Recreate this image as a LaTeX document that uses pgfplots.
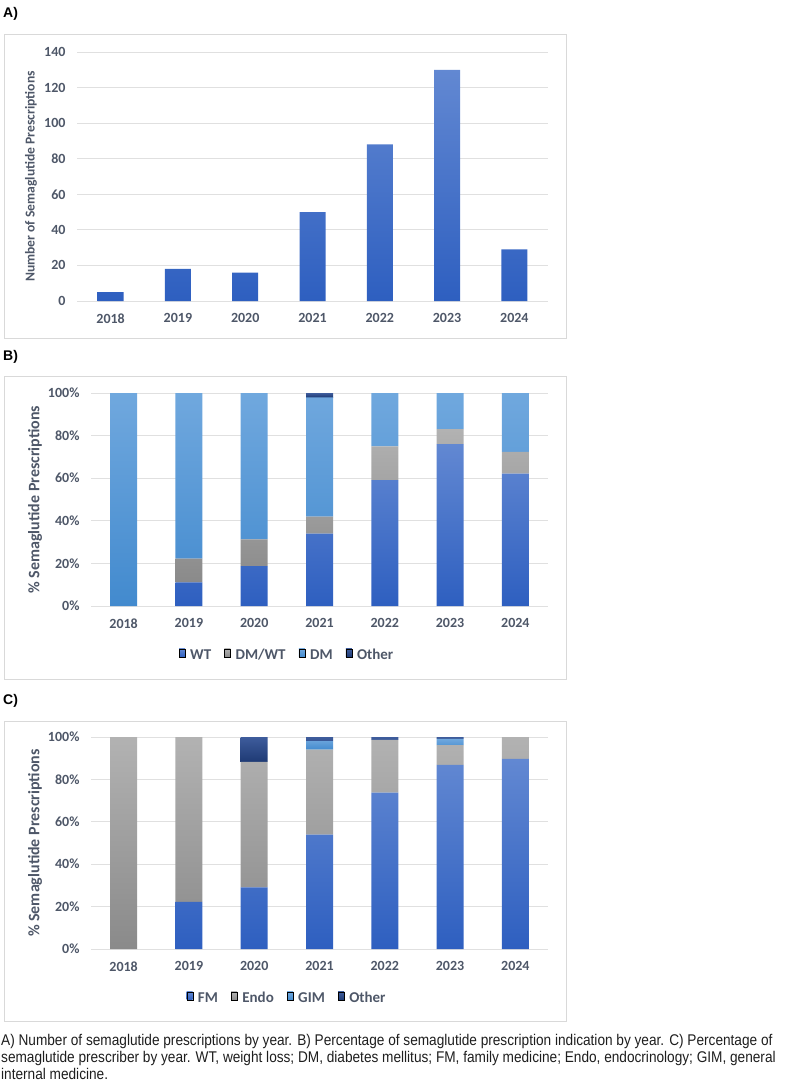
\documentclass[border=0pt]{standalone}
\usepackage{fontspec}
\usepackage{pgfplots}
\pgfplotsset{compat=1.18}
\newfontfamily\cf{Carlito}
\newfontfamily\af{Liberation Sans}
\newfontfamily\nf[FakeStretch=0.88]{Liberation Sans}
\definecolor{txt}{RGB}{78,87,104}
\definecolor{gridc}{RGB}{224,224,224}
\definecolor{framec}{RGB}{217,217,217}
\definecolor{bTop}{RGB}{98,136,210}
\definecolor{bBot}{RGB}{46,95,192}
\definecolor{gTop}{RGB}{178,178,178}
\definecolor{gBot}{RGB}{138,138,138}
\definecolor{lTop}{RGB}{112,168,222}
\definecolor{lBot}{RGB}{66,138,206}
\definecolor{nTop}{RGB}{62,92,156}
\definecolor{nBot}{RGB}{30,58,116}
\definecolor{capc}{RGB}{30,30,30}

\pgfplotsset{
  base/.style={
    scale only axis, anchor=south west,
    xmin=-0.5, xmax=6.5,
    xtick={0,...,6}, xticklabels={2018,2019,2020,2021,2022,2023,2024},
    axis line style={draw=none}, major tick length=0pt, tick style={draw=none},
    ymajorgrids, grid style={draw=gridc, line width=0.8pt},
    ticklabel style={font=\cf\bfseries\fontsize{14}{16}\selectfont, text=txt},
    xticklabel style={yshift=-9pt},
    yticklabel style={xshift=-8pt},
    clip=false,
    legend image code/.code={\path[##1] (0pt,-4.5pt) rectangle (9pt,4.5pt);},
  },
}

\begin{document}
\begin{tikzpicture}
\path[use as bounding box] (0pt,0pt) rectangle (788pt,-1083pt);
\draw[framec, line width=0.8pt] (4pt,-34pt) rectangle (566pt,-338pt);
\draw[framec, line width=0.8pt] (4pt,-376pt) rectangle (566pt,-679pt);
\draw[framec, line width=0.8pt] (4pt,-721pt) rectangle (566pt,-1021pt);
\node[anchor=west, inner sep=0pt, font=\af\bfseries\fontsize{14}{16}\selectfont] at (3pt,-14pt) {A)};
\node[anchor=west, inner sep=0pt, font=\af\bfseries\fontsize{14}{16}\selectfont] at (3pt,-357pt) {B)};
\node[anchor=west, inner sep=0pt, font=\af\bfseries\fontsize{14}{16}\selectfont] at (3pt,-701pt) {C)};

% Panel A
\begin{axis}[base, at={(77pt,-301pt)}, width=471pt, height=249pt,
  ybar, bar width=26pt, ymin=0, ymax=140,
  ytick={0,20,40,60,80,100,120,140}, yticklabels={0,20,40,60,80,100,120,140},
  ylabel={Number of Semaglutide Prescriptions},
  every axis y label/.style={at={(axis description cs:-0.0977,0.5)}, rotate=90, anchor=center,
    font=\cf\bfseries\fontsize{13.6}{15}\selectfont, text=txt}]
\addplot[draw=none, top color=bTop, bottom color=bBot] coordinates {
(0,5) (1,18) (2,16) (3,50) (4,88) (5,130) (6,29)};
\end{axis}

% Panel B
\begin{axis}[base, at={(91pt,-606pt)}, width=457pt, height=213pt,
  ybar stacked, bar width=27pt, ymin=0, ymax=100,
  ytick={0,20,40,60,80,100}, yticklabels={0\%,20\%,40\%,60\%,80\%,100\%},
  ylabel={\% Semaglutide Prescriptions},
  every axis y label/.style={at={(axis description cs:-0.1225,0.5)}, rotate=90, anchor=center,
    font=\cf\bfseries\fontsize{16}{18}\selectfont, text=txt},
  legend columns=4,
  legend style={draw=none, fill=none, at={(0.429,-0.23)}, anchor=center,
    font=\cf\bfseries\fontsize{15}{17}\selectfont, text=txt,
    /tikz/every even column/.append style={column sep=11pt}}]
\addplot[draw=none, top color=bTop, bottom color=bBot] coordinates {
(0,0) (1,11.1) (2,18.75) (3,34) (4,59.1) (5,76) (6,62.1)};
\addplot[draw=none, top color=gTop, bottom color=gBot] coordinates {
(0,0) (1,11.1) (2,12.5) (3,8) (4,15.9) (5,7) (6,10.3)};
\addplot[draw=none, top color=lTop, bottom color=lBot] coordinates {
(0,100) (1,77.8) (2,68.75) (3,56) (4,25) (5,17) (6,27.6)};
\addplot[draw=none, top color=nTop, bottom color=nBot] coordinates {
(0,0) (1,0) (2,0) (3,2) (4,0) (5,0) (6,0)};
\legend{\hspace{3pt}WT,\hspace{3pt}DM/WT,\hspace{3pt}DM,\hspace{3pt}Other}
\end{axis}

% Panel C
\begin{axis}[base, at={(91pt,-949pt)}, width=457pt, height=212pt,
  ybar stacked, bar width=27pt, ymin=0, ymax=100,
  ytick={0,20,40,60,80,100}, yticklabels={0\%,20\%,40\%,60\%,80\%,100\%},
  ylabel={\% Semaglutide Prescriptions},
  every axis y label/.style={at={(axis description cs:-0.1225,0.5)}, rotate=90, anchor=center,
    font=\cf\bfseries\fontsize{16}{18}\selectfont, text=txt},
  legend columns=4,
  legend style={draw=none, fill=none, at={(0.429,-0.231)}, anchor=center,
    font=\cf\bfseries\fontsize{15}{17}\selectfont, text=txt,
    /tikz/every even column/.append style={column sep=11pt}}]
\addplot[draw=none, top color=bTop, bottom color=bBot] coordinates {
(0,0) (1,22.2) (2,29.1) (3,54) (4,73.8) (5,86.9) (6,89.7)};
\addplot[draw=none, top color=gTop, bottom color=gBot] coordinates {
(0,100) (1,77.8) (2,59.2) (3,40) (4,24.9) (5,9.3) (6,10.3)};
\addplot[draw=none, top color=lTop, bottom color=lBot] coordinates {
(0,0) (1,0) (2,0) (3,4) (4,0) (5,2.9) (6,0)};
\addplot[draw=none, top color=nTop, bottom color=nBot] coordinates {
(0,0) (1,0) (2,11.7) (3,2) (4,1.3) (5,0.9) (6,0)};
\legend{\hspace{3pt}FM,\hspace{3pt}Endo,\hspace{3pt}GIM,\hspace{3pt}Other}
\end{axis}

% caption
\node[anchor=base west, inner sep=0pt, text=capc, font=\nf\fontsize{15.5}{17}\selectfont] at (1pt,-1045pt)
 {A) Number of semaglutide prescriptions by year. B) Percentage of semaglutide prescription indication by year. C) Percentage of};
\node[anchor=base west, inner sep=0pt, text=capc, font=\nf\fontsize{15.5}{17}\selectfont] at (1pt,-1062pt)
 {semaglutide prescriber by year. WT, weight loss; DM, diabetes mellitus; FM, family medicine; Endo, endocrinology; GIM, general};
\node[anchor=base west, inner sep=0pt, text=capc, font=\nf\fontsize{15.5}{17}\selectfont] at (1pt,-1079pt)
 {internal medicine.};
\end{tikzpicture}
\end{document}
